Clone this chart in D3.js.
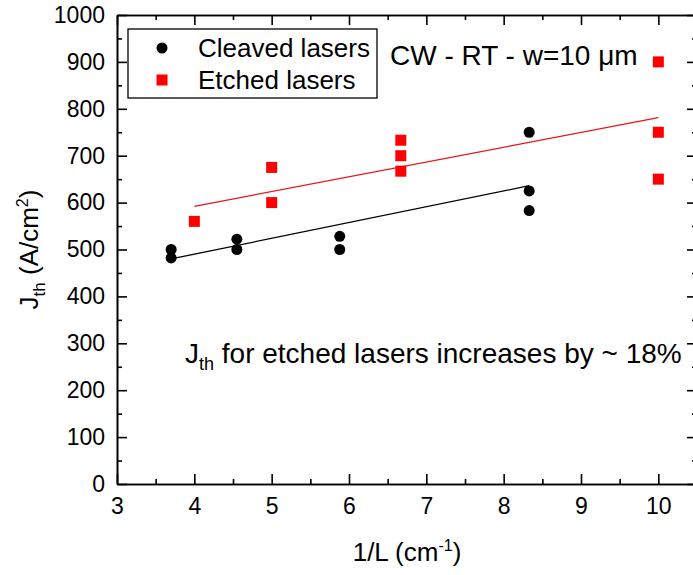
<!DOCTYPE html>
<html>
<head>
<meta charset="utf-8">
<script src="https://cdn.jsdelivr.net/npm/d3@7"></script>
<style>
  body { margin: 0; background: #fff; }
  text { font-family: "Liberation Sans", Arial, sans-serif; fill: #000; }
</style>
</head>
<body>
<div id="chart"></div>
<script>
// values
const cleavedX = [3.70, 3.70, 4.55, 4.55, 5.88, 5.88, 8.33, 8.33, 8.33];
const cleavedY = [500, 482, 522, 500, 528, 500, 750, 625, 583];
const etchedX = [4, 5, 5, 6.67, 6.67, 6.67, 10, 10, 10];
const etchedY = [560, 675, 600, 733, 700, 667, 900, 750, 650];
const cleavedFit = [[3.70, 480], [8.33, 636]];
const etchedFit = [[4, 592], [10, 781]];
const xTicks = [3, 4, 5, 6, 7, 8, 9, 10];
const yTicks = [0, 100, 200, 300, 400, 500, 600, 700, 800, 900, 1000];

const width = 693, height = 575;
const margin = { top: 15, right: -4, bottom: 91, left: 117 };

const svg = d3.select("#chart")
  .append("svg")
  .attr("width", width)
  .attr("height", height);

const x = d3.scaleLinear()
  .domain([3, 10.5])
  .range([margin.left, width - margin.right]);

const y = d3.scaleLinear()
  .domain([0, 1000])
  .range([height - margin.bottom, margin.top]);

const x0 = x.range()[0], x1 = x.range()[1], y0 = y.range()[0], y1 = y.range()[1];
const xMinor = d3.range(3.5, 10.5, 1);
const yMinor = d3.range(50, 1000, 100);

// axes with inward ticks on all four sides
function styleAxis(g) {
  g.select(".domain").attr("stroke-width", 1.6);
  g.selectAll(".tick line").attr("stroke-width", 1.6);
  g.selectAll("text").attr("font-size", 23).style("font-family", "'Liberation Sans', Arial, sans-serif");
}

svg.append("g")
  .attr("transform", `translate(0, ${y0})`)
  .call(d3.axisBottom(x).tickValues(xTicks).tickSizeInner(-10).tickSizeOuter(0).tickPadding(14))
  .call(styleAxis);
svg.append("g")
  .attr("transform", `translate(0, ${y0})`)
  .call(d3.axisBottom(x).tickValues(xMinor).tickSizeInner(-5).tickSizeOuter(0).tickFormat(""))
  .call(styleAxis);

svg.append("g")
  .attr("transform", `translate(0, ${y1})`)
  .call(d3.axisTop(x).tickValues(xTicks).tickSizeInner(-10).tickSizeOuter(0).tickFormat(""))
  .call(styleAxis);
svg.append("g")
  .attr("transform", `translate(0, ${y1})`)
  .call(d3.axisTop(x).tickValues(xMinor).tickSizeInner(-5).tickSizeOuter(0).tickFormat(""))
  .call(styleAxis);

svg.append("g")
  .attr("transform", `translate(${x0}, 0)`)
  .call(d3.axisLeft(y).tickValues(yTicks).tickSizeInner(-10).tickSizeOuter(0).tickPadding(12).tickFormat(d3.format("d")))
  .call(styleAxis);
svg.append("g")
  .attr("transform", `translate(${x0}, 0)`)
  .call(d3.axisLeft(y).tickValues(yMinor).tickSizeInner(-5).tickSizeOuter(0).tickFormat(""))
  .call(styleAxis);

svg.append("g")
  .attr("transform", `translate(${x1}, 0)`)
  .call(d3.axisRight(y).tickValues(yTicks).tickSizeInner(-10).tickSizeOuter(0).tickFormat(""))
  .call(styleAxis);
svg.append("g")
  .attr("transform", `translate(${x1}, 0)`)
  .call(d3.axisRight(y).tickValues(yMinor).tickSizeInner(-5).tickSizeOuter(0).tickFormat(""))
  .call(styleAxis);

// fit lines
const line = d3.line().x(d => x(d[0])).y(d => y(d[1]));
svg.append("path").attr("d", line(cleavedFit)).attr("fill", "none").attr("stroke", "#000").attr("stroke-width", 1.3);
svg.append("path").attr("d", line(etchedFit)).attr("fill", "none").attr("stroke", "#e8141b").attr("stroke-width", 1.3);

// points
svg.selectAll("circle.cleaved")
  .data(d3.zip(cleavedX, cleavedY))
  .enter()
  .append("circle")
  .attr("class", "cleaved")
  .attr("cx", d => x(d[0]))
  .attr("cy", d => y(d[1]))
  .attr("r", 5.5)
  .attr("fill", "#000");

const sq = 11;
svg.selectAll("rect.etched")
  .data(d3.zip(etchedX, etchedY))
  .enter()
  .append("rect")
  .attr("class", "etched")
  .attr("x", d => x(d[0]) - sq / 2)
  .attr("y", d => y(d[1]) - sq / 2)
  .attr("width", sq)
  .attr("height", sq)
  .attr("fill", "#ff0000");

// legend
const lg = svg.append("g");
lg.append("rect").attr("x", 128).attr("y", 29).attr("width", 249).attr("height", 69)
  .attr("fill", "#fff").attr("stroke", "#000").attr("stroke-width", 1.3);
lg.append("circle").attr("cx", 162).attr("cy", 48).attr("r", 5.5).attr("fill", "#000");
lg.append("rect").attr("x", 162 - sq / 2).attr("y", 80 - sq / 2).attr("width", sq).attr("height", sq).attr("fill", "#ff0000");
lg.append("text").attr("x", 198).attr("y", 57).attr("font-size", 26).text("Cleaved lasers");
lg.append("text").attr("x", 198).attr("y", 89).attr("font-size", 26).text("Etched lasers");

svg.append("text").attr("x", 390).attr("y", 65).attr("font-size", 28).text("CW - RT - w=10 μm");

// annotation
const ann = svg.append("text").attr("x", 185).attr("y", 363).attr("font-size", 28);
ann.append("tspan").text("J");
ann.append("tspan").attr("font-size", 18).attr("dy", 7).text("th");
ann.append("tspan").attr("dy", -7).text(" for etched lasers increases by ~ 18%");

// axis titles
const xt = svg.append("text").attr("x", (x0 + x1) / 2).attr("y", 561).attr("text-anchor", "middle").attr("font-size", 26);
xt.append("tspan").text("1/L (cm");
xt.append("tspan").attr("font-size", 16).attr("dy", -10).text("-1");
xt.append("tspan").attr("dy", 10).text(")");

const yt = svg.append("text")
  .attr("transform", `translate(38, ${(y0 + y1) / 2}) rotate(-90)`)
  .attr("text-anchor", "middle").attr("font-size", 26);
yt.append("tspan").text("J");
yt.append("tspan").attr("font-size", 17).attr("dy", 7).text("th");
yt.append("tspan").attr("dy", -7).text(" (A/cm");
yt.append("tspan").attr("font-size", 16).attr("dy", -10).text("2");
yt.append("tspan").attr("dy", 10).text(")");
</script>
</body>
</html>
